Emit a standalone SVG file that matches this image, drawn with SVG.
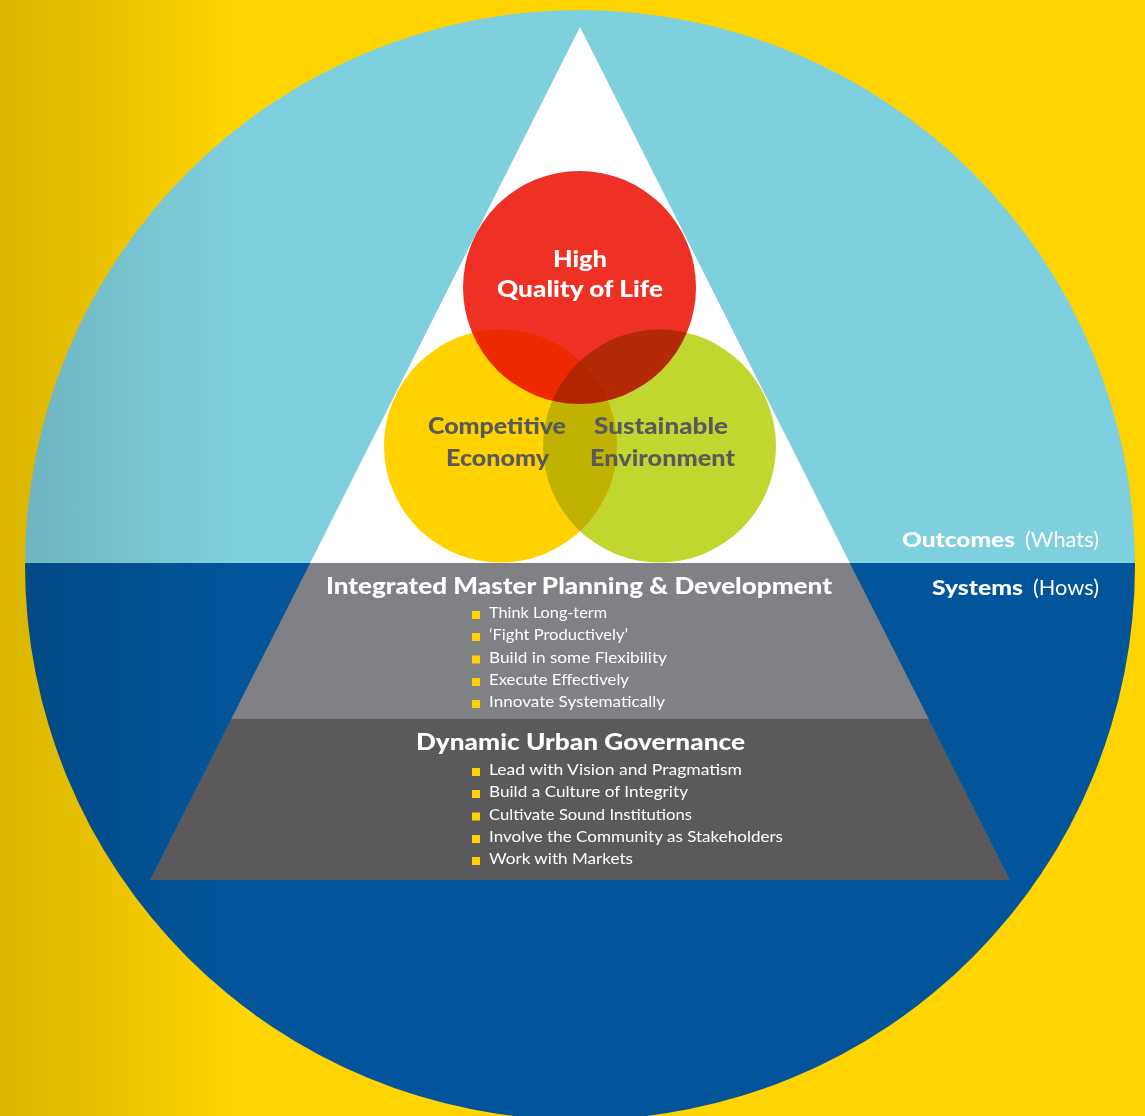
<svg xmlns="http://www.w3.org/2000/svg" width="1145" height="1116" viewBox="0 0 1145 1116">
<defs>
<linearGradient id="shade" x1="0" y1="0" x2="235" y2="0" gradientUnits="userSpaceOnUse">
<stop offset="0" stop-color="#000" stop-opacity="0.15"/>
<stop offset="1" stop-color="#000" stop-opacity="0"/>
</linearGradient>
<clipPath id="disc"><circle cx="580" cy="565" r="555"/></clipPath>
</defs>
<style>
.hd{font-family:Lato,"Liberation Sans",sans-serif;font-weight:900;fill:#fff;font-size:22px}
.vn{font-family:Lato,"Liberation Sans",sans-serif;font-weight:900;fill:#58595b;font-size:23px;text-anchor:middle}
.vw{font-family:Lato,"Liberation Sans",sans-serif;font-weight:900;fill:#fff;font-size:23px;text-anchor:middle}
.bl{font-family:Lato,"Liberation Sans",sans-serif;font-weight:400;fill:#fff;font-size:16px}
.lg{font-family:Lato,"Liberation Sans",sans-serif;fill:#fff;font-size:21px}
.sq{fill:#ffd200}
.ven{mix-blend-mode:multiply}
</style>

<g id="background">
<rect x="0" y="0" width="1145" height="1116" fill="#ffd400"/>
<g clip-path="url(#disc)">
<rect x="0" y="0" width="1145" height="563" fill="#7fd0df"/>
<rect x="0" y="563" width="1145" height="560" fill="#02559a"/>
</g>
<rect x="0" y="0" width="235" height="1116" fill="url(#shade)"/>
</g>

<g id="pyramid">
<polygon id="outcomes-tier" points="580,27 849.8,563 310.2,563" fill="#ffffff"/>
<polygon id="planning-tier" points="310.2,563 849.8,563 928.8,719 231.2,719" fill="#808185"/>
<polygon id="governance-tier" points="231.2,719 928.8,719 1010,880 150,880" fill="#5a5a5c"/>
</g>

<g id="venn" style="isolation:isolate">
<circle id="quality" class="ven" cx="579.5" cy="287.5" r="116.5" fill="#ee3124"/>
<circle id="economy" class="ven" cx="500.5" cy="446" r="116.5" fill="#ffd200"/>
<circle id="environment" class="ven" cx="659.5" cy="446" r="116.5" fill="#c1d72f"/>
</g>

<g id="venn-labels">
<text class="vw" x="580" y="267" textLength="54" lengthAdjust="spacingAndGlyphs">High</text>
<text class="vw" x="580" y="297" textLength="166" lengthAdjust="spacingAndGlyphs">Quality of Life</text>
<text class="vn" x="497" y="434" textLength="138" lengthAdjust="spacingAndGlyphs">Competitive</text>
<text class="vn" x="497.5" y="466" textLength="103" lengthAdjust="spacingAndGlyphs">Economy</text>
<text class="vn" x="661" y="434" textLength="134" lengthAdjust="spacingAndGlyphs">Sustainable</text>
<text class="vn" x="662.5" y="466" textLength="145" lengthAdjust="spacingAndGlyphs">Environment</text>
</g>

<g id="planning">
<text class="hd" x="326" y="594" textLength="506" lengthAdjust="spacingAndGlyphs">Integrated Master Planning &amp; Development</text>
<rect class="sq" x="472" y="611" width="8" height="8"/>
<text class="bl" x="489" y="618" textLength="118" lengthAdjust="spacingAndGlyphs">Think Long-term</text>
<rect class="sq" x="472" y="633" width="8" height="8"/>
<text class="bl" x="489" y="640" textLength="139" lengthAdjust="spacingAndGlyphs">‘Fight Productively’</text>
<rect class="sq" x="472" y="655.5" width="8" height="8"/>
<text class="bl" x="489" y="662.5" textLength="178" lengthAdjust="spacingAndGlyphs">Build in some Flexibility</text>
<rect class="sq" x="472" y="678" width="8" height="8"/>
<text class="bl" x="489" y="685" textLength="140" lengthAdjust="spacingAndGlyphs">Execute Effectively</text>
<rect class="sq" x="472" y="700" width="8" height="8"/>
<text class="bl" x="489" y="707" textLength="176" lengthAdjust="spacingAndGlyphs">Innovate Systematically</text>
</g>

<g id="governance">
<text class="hd" x="416" y="750" textLength="329" lengthAdjust="spacingAndGlyphs">Dynamic Urban Governance</text>
<rect class="sq" x="472" y="768" width="8" height="8"/>
<text class="bl" x="489" y="775" textLength="253" lengthAdjust="spacingAndGlyphs">Lead with Vision and Pragmatism</text>
<rect class="sq" x="472" y="790" width="8" height="8"/>
<text class="bl" x="489" y="797" textLength="199" lengthAdjust="spacingAndGlyphs">Build a Culture of Integrity</text>
<rect class="sq" x="472" y="812.5" width="8" height="8"/>
<text class="bl" x="489" y="819.5" textLength="203" lengthAdjust="spacingAndGlyphs">Cultivate Sound Institutions</text>
<rect class="sq" x="472" y="835" width="8" height="8"/>
<text class="bl" x="489" y="842" textLength="294" lengthAdjust="spacingAndGlyphs">Involve the Community as Stakeholders</text>
<rect class="sq" x="472" y="857" width="8" height="8"/>
<text class="bl" x="489" y="864" textLength="144" lengthAdjust="spacingAndGlyphs">Work with Markets</text>
</g>

<g id="side-labels">
<text class="lg" x="902" y="547" font-weight="900" textLength="113" lengthAdjust="spacingAndGlyphs">Outcomes</text>
<text class="lg" x="1025" y="547" font-weight="400" textLength="74" lengthAdjust="spacingAndGlyphs">(Whats)</text>
<text class="lg" x="932" y="595" font-weight="900" textLength="91" lengthAdjust="spacingAndGlyphs">Systems</text>
<text class="lg" x="1033" y="595" font-weight="400" textLength="66" lengthAdjust="spacingAndGlyphs">(Hows)</text>
</g>

<g id="connectors"/>
</svg>
